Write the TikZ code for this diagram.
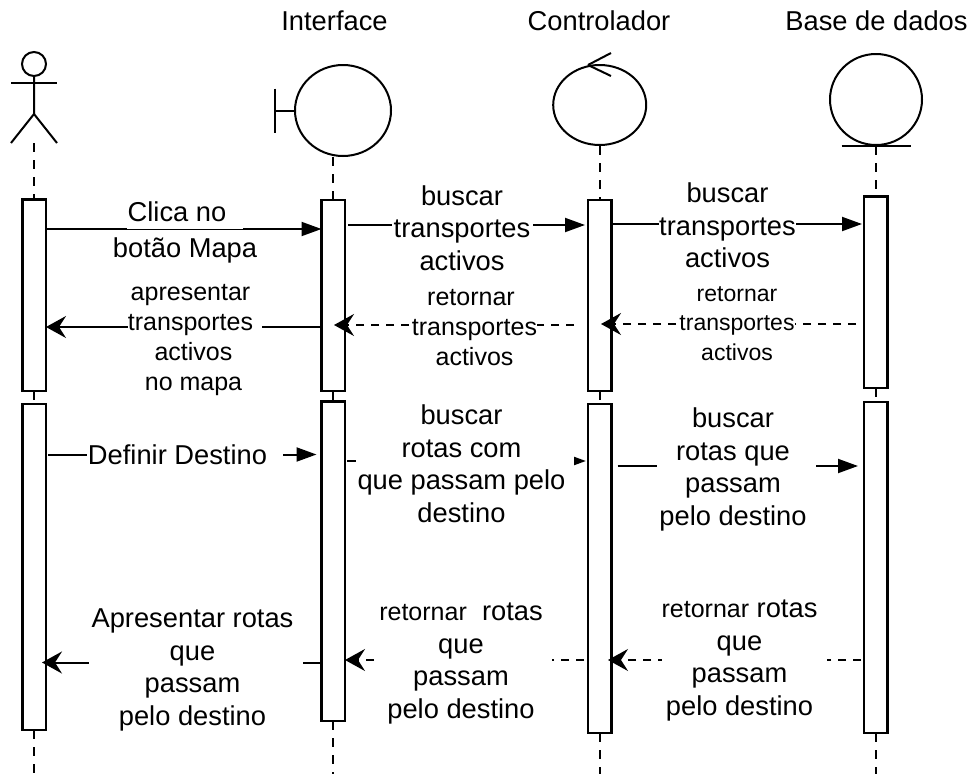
\documentclass[tikz,border=0pt]{standalone}
\usepackage{fontspec}
\setmainfont{Liberation Sans}
\usepackage{tikz}
\usetikzlibrary{arrows.meta,positioning,shapes.geometric}
\tikzset{
    %Define style for the lifelines
    vida/.style={
           line width=2pt,
           dash pattern=on 9pt off 8pt},
    %Define style for the activation bars
    barra/.style={
           rectangle,
           draw=black,
           fill=white,
           line width=2.3pt,
           minimum width=23.5pt,
           outer sep=0pt,
           inner sep=0pt},
    %Define style for the symbols
    simbolo/.style={
           ellipse,
           draw=black,
           line width=2pt,
           inner sep=0pt},
    % Define arrow styles
    seta/.style={
           -{Triangle[length=20pt,width=14pt]},
           line width=2pt},
    retorno/.style={
           -{Stealth[length=20pt,width=22pt,inset=7pt]},
           line width=2pt},
    tracejado/.style={
           retorno,
           line width=1.8pt,
           dash pattern=on 8pt off 7pt},
    % Define style for the labels
    titulo/.style={
           font=\fontsize{27.3}{33}\selectfont},
    rotulo/.style={
           fill=white,
           align=center,
           inner sep=0pt,
           font=\fontsize{27.3}{32.5}\selectfont},
    rotulom/.style={
           rotulo,
           font=\fontsize{25}{30}\selectfont},
    rotulop/.style={
           rotulo,
           font=\fontsize{23}{29.5}\selectfont}
}
\begin{document}
\begin{tikzpicture}[x=1pt,y=-1pt]
 \useasboundingbox (0,0) rectangle (972,774);

 \node[titulo] (tinterface) at (334.5,21) {Interface};
 \node[titulo] (tcontrolador) at (599,21) {Controlador};
 \node[titulo] (tbase) at (876.5,21) {Base de dados};

 % symbols
 \node[circle,draw,line width=2pt,minimum size=24pt,inner sep=0pt] (ator) at (34,64) {};
 \draw[line width=2pt] (ator.south) -- ++(0,37) coordinate (quadril) -- ++(-23,29);
 \draw[line width=2pt] (quadril) -- ++(23,29) coordinate (pe);
 \draw[line width=2pt] ([yshift=-6pt]ator.south) ++(-23,0) -- ++(46,0);

 \node[simbolo,minimum width=96pt,minimum height=91pt] (iface) at (343,110.5) {};
 \draw[line width=2pt] (iface.west) -- ++(-19,0) coordinate (tee);
 \draw[line width=2pt] (tee) ++(0,-22) -- ++(0,44);

 \node[simbolo,minimum width=93pt,minimum height=80pt] (ctrl) at (599.7,105) {};
 \draw[line width=2pt] (ctrl.north) ++(-11.7,1) coordinate (giro) -- ++(23,-12);
 \draw[line width=2pt] (giro) -- ++(23,11);

 \node[simbolo,minimum width=92pt,minimum height=91pt] (bd) at (876,99.5) {};
 \draw[line width=2pt] ([xshift=-34.5pt]bd.south) -- ([xshift=34.5pt]bd.south);

 \coordinate (fim) at (0,774);

 % activation bars
 \node[barra,minimum height=191.5pt] (atora) at (34.25,295.25) {};
 \node[barra,minimum height=326pt,below=13pt of atora] (atorb) {};
 \node[barra,minimum height=191pt] (ifacea) at (333.25,295.5) {};
 \node[barra,minimum height=319.5pt,below=10.5pt of ifacea] (ifaceb) {};
 \node[barra,minimum height=191pt] (ctrla) at (599.75,295.5) {};
 \node[barra,minimum height=329pt,below=13pt of ctrla] (ctrlb) {};
 \node[barra,minimum height=191.5pt] (bda) at (875.75,292.25) {};
 \node[barra,minimum height=331pt,below=14pt of bda] (bdb) {};

 % lifelines
 \draw[vida] (atora.north |- pe) -- (atora.north);
 \draw[vida] (atora.south) -- (atorb.north);
 \draw[vida] (atorb.south) -- (atorb.south |- fim);
 \draw[vida] (ifacea.north |- iface.south) -- (ifacea.north);
 \draw[vida] (ifacea.south) -- (ifaceb.north);
 \draw[vida] (ifaceb.south) -- (ifaceb.south |- fim);
 \draw[vida] (ctrla.north |- ctrl.south) -- (ctrla.north);
 \draw[vida] (ctrla.south) -- (ctrlb.north);
 \draw[vida] (ctrlb.south) -- (ctrlb.south |- fim);
 \draw[vida] (bda.north |- bd.south) -- (bda.north);
 \draw[vida] (bda.south) -- (bdb.north);
 \draw[vida] (bdb.south) -- (bdb.south |- fim);

 % heights of the messages
 \coordinate (m1) at (0,229);
 \coordinate (m2) at (0,225);
 \coordinate (m3) at (0,224);
 \coordinate (m4) at (0,327);
 \coordinate (m5) at (0,325);
 \coordinate (m6) at (0,324);
 \coordinate (m7) at (0,454.5);
 \coordinate (m8) at (0,461);
 \coordinate (m9) at (0,466);
 \coordinate (m10) at (0,662.5);
 \coordinate (m11) at (0,660);
 \coordinate (m12) at (0,660);

 % messages
 \draw[seta] (atora.east |- m1) -- (ifacea.west |- m1);
 \draw[seta,shorten <=3pt,shorten >=3pt] (ifacea.east |- m2) -- (ctrla.west |- m2);
 \draw[seta,shorten >=2pt] (ctrla.east |- m3) -- (bda.west |- m3);
 \draw[retorno] (ifacea.west |- m4) -- (atora.east |- m4);
 \draw[tracejado,shorten <=14pt,shorten >=-11pt] (ctrla.west |- m5) -- (ifacea.east |- m5);
 \draw[tracejado,shorten <=8pt,shorten >=-10.5pt] (bda.west |- m6) -- (ctrla.east |- m6);
 \draw[seta,shorten <=2pt,shorten >=5pt] (atorb.east |- m7) -- (ifaceb.west |- m7);
 \draw[seta,shorten <=2pt,shorten >=2pt,-{Triangle[length=12pt,width=8pt]}] (ifaceb.east |- m8) -- (ctrlb.west |- m8);
 \draw[seta,shorten <=6pt,shorten >=6pt] (ctrlb.east |- m9) -- (bdb.west |- m9);
 \draw[retorno,shorten >=-4pt] (ifaceb.west |- m10) -- (atorb.east |- m10);
 \draw[tracejado,shorten <=4pt] (ctrlb.west |- m11) -- (ifaceb.east |- m11);
 \draw[tracejado,shorten <=3pt,shorten >=-3.5pt] (bdb.west |- m12) -- (ctrlb.east |- m12);

 % labels
 \node[rotulo,minimum width=116pt,minimum height=34pt] (clica) at (185,212) {Clica no\hspace{16pt}};
 \node[rotulo] (botao) at (185,250) {botão Mapa};
 \node[rotulo,minimum width=141pt] (busca) at (462,228) {buscar\\transportes\\activos};
 \node[rotulo,minimum width=137pt] (buscb) at (727.5,225.5) {buscar\\transportes\\activos};
 \node[rotulom,minimum width=134pt] (apres) at (195,340) {\hspace{-9pt}apresentar\\\hspace{-9pt}transportes\\\hspace{-3pt}activos\\\hspace{-3pt}no mapa};
 \node[rotulom,minimum width=125pt] (reta) at (474.5,328) {\hspace{-7pt}retornar\\transportes\\activos};
 \node[rotulop,minimum width=114pt] (retb) at (737,323.5) {retornar\\transportes\\activos};
 \node[rotulo,minimum width=196pt] (defin) at (185,455) {\hspace{-15pt}Definir Destino};
 \node[rotulo,minimum width=218pt] (buscc) at (465,463.5) {\hspace{-7pt}buscar\\\hspace{-7pt}rotas com\\\hspace{-7pt}que passam pelo\\\hspace{-7pt}destino};
 \node[rotulo,minimum width=159pt] (buscd) at (736.5,469.5) {\hspace{-7pt}buscar\\\hspace{-7pt}rotas que\\\hspace{-7pt}passam\\\hspace{-7pt}pelo destino};
 \node[rotulo,minimum width=214pt] (apresb) at (196,670) {\hspace{-7pt}Apresentar rotas\\\hspace{-7pt}que\\\hspace{-7pt}passam\\\hspace{-7pt}pelo destino};
 \node[rotulo,minimum width=176pt] (retc) at (464,663.5) {\hspace{-6pt}{\fontsize{25}{32.5}\selectfont retornar}\ \ rotas\\\hspace{-6pt}que\\\hspace{-6pt}passam\\\hspace{-6pt}pelo destino};
 \node[rotulo,minimum width=165pt] (retd) at (744.5,660.5) {\hspace{-10pt}{\fontsize{25}{32.5}\selectfont retornar} rotas\\\hspace{-10pt}que\\\hspace{-10pt}passam\\\hspace{-10pt}pelo destino};
\end{tikzpicture}
\end{document}
